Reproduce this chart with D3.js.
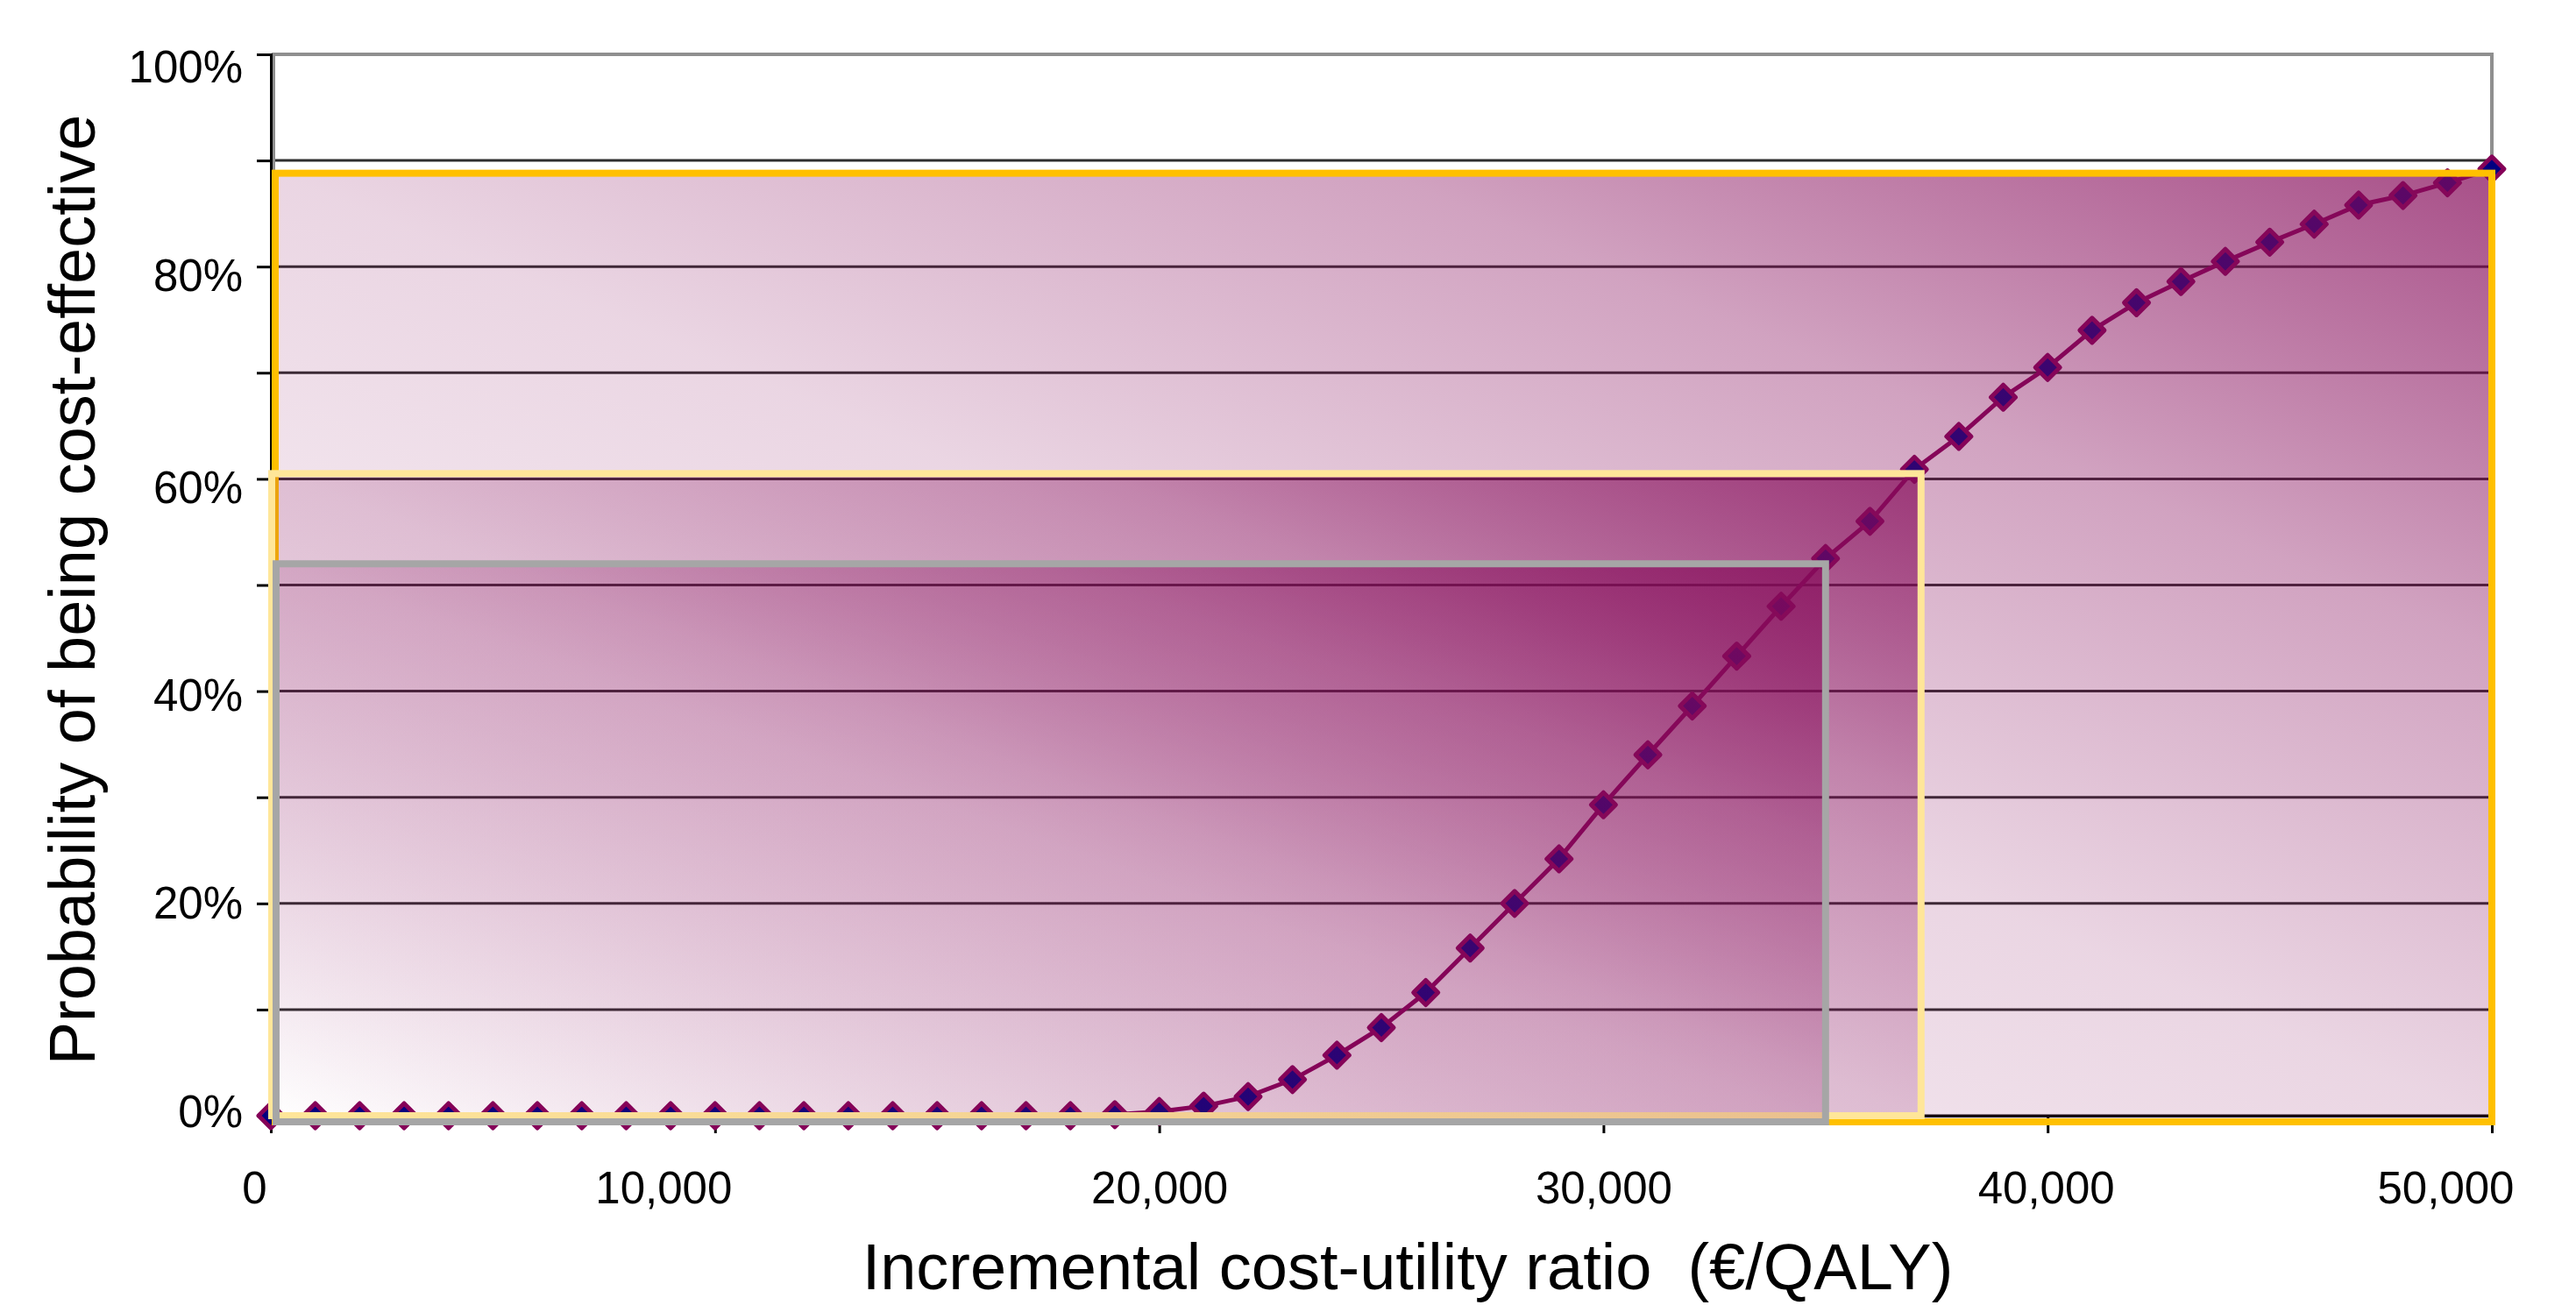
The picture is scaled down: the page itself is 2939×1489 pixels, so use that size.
<!DOCTYPE html>
<html>
<head>
<meta charset="utf-8">
<script src="https://cdn.jsdelivr.net/npm/d3@7"></script>
<style>
  html, body { margin: 0; padding: 0; background: #ffffff; }
  svg { display: block; }
  text { font-family: "Liberation Sans", Arial, Helvetica, sans-serif; fill: #000; }
</style>
</head>
<body>
<svg id="chart" width="2939" height="1489"></svg>
<script>
// ---------------- data ----------------
const wtpValues = [0, 1000, 2000, 3000, 4000, 5000, 6000, 7000, 8000, 9000,
  10000, 11000, 12000, 13000, 14000, 15000, 16000, 17000, 18000, 19000,
  20000, 21000, 22000, 23000, 24000, 25000, 26000, 27000, 28000, 29000,
  30000, 31000, 32000, 33000, 34000, 35000, 36000, 37000, 38000, 39000,
  40000, 41000, 42000, 43000, 44000, 45000, 46000, 47000, 48000, 49000, 50000];
const probCostEffective = [0, 0, 0, 0, 0, 0, 0, 0, 0, 0,
  0, 0, 0, 0, 0, 0, 0, 0, 0, 0.1,
  0.4, 0.9, 1.8, 3.4, 5.7, 8.3, 11.6, 15.8, 20.0, 24.2,
  29.3, 34.0, 38.6, 43.3, 48.0, 52.5, 56.0, 60.9, 64.0, 67.7,
  70.5, 74.0, 76.6, 78.6, 80.5, 82.3, 84.0, 85.8, 86.7, 87.9, 89.2];
const xTickValues = [0, 10000, 20000, 30000, 40000, 50000];
const yTickValues = [0, 10, 20, 30, 40, 50, 60, 70, 80, 90, 100];
const yLabelValues = [0, 20, 40, 60, 80, 100];
// highlighted regions: willingness-to-pay threshold and probability reached
const thresholdWTP = [50000, 37150, 35000];
const thresholdProb = [88.8, 60.5, 52.0];
const xAxisTitle = "Incremental cost-utility ratio  (\u20AC/QALY)";
const yAxisTitle = "Probability of being cost-effective";

// ---------------- layout / styles ----------------
const W = 2939, H = 1489;
const margin = { left: 309, right: 96, top: 62, bottom: 216 };
const boxStyles = [
  { stroke: "#FFC000", nudgeX: 5, nudgeY: 7 },
  { stroke: "#FFE699", nudgeX: 1, nudgeY: 0 },
  { stroke: "#A6A6A6", nudgeX: 6, nudgeY: 7 }
];
const overlayColor = "#860B5A";
// small hand placements of tick labels seen in the original artwork (px)
const xLabelShift = { 0: -19, 10000: -59, 20000: 0, 30000: 0, 40000: -2, 50000: -53 };
const yLabelShift = { 0: -4, 20: 0, 40: 6, 60: 11, 80: 11, 100: 15 };

const svg = d3.select("#chart");
const x = d3.scaleLinear().domain([0, 50000]).range([margin.left, W - margin.right]);
const y = d3.scaleLinear().domain([0, 100]).range([H - margin.bottom, margin.top]);

// gradient used by the highlight boxes (relative to each box)
const defs = svg.append("defs");
const grad = defs.append("linearGradient")
  .attr("id", "boxGrad")
  .attr("gradientUnits", "objectBoundingBox")
  .attr("x1", 0).attr("y1", 1).attr("x2", 1).attr("y2", 0);
[[0, 0.0], [0.5, 0.17], [0.75, 0.38], [1, 0.72]].forEach(([o, a]) => {
  grad.append("stop").attr("offset", o)
    .attr("stop-color", overlayColor).attr("stop-opacity", a);
});

// background
svg.append("rect").attr("width", W).attr("height", H).attr("fill", "#ffffff");

// gridlines
svg.append("g").attr("class", "grid")
  .selectAll("line")
  .data(yTickValues.filter(v => v > 0 && v < 100))
  .join("line")
  .attr("x1", x(0)).attr("x2", x(50000))
  .attr("y1", d => y(d)).attr("y2", d => y(d))
  .attr("stroke", "#2e2e2e").attr("stroke-width", 3);

// plot-area border
svg.append("rect")
  .attr("x", x(0) + 3).attr("y", y(100))
  .attr("width", x(50000) - x(0) - 3).attr("height", y(0) - y(100))
  .attr("fill", "none").attr("stroke", "#8f8f8f").attr("stroke-width", 4);

// axes
const yAxis = d3.axisLeft(y)
  .tickValues(yTickValues)
  .tickSize(16).tickPadding(16)
  .tickFormat(d => yLabelValues.includes(d) ? d + "%" : "");
const gy = svg.append("g").attr("transform", `translate(${x(0)},0)`).call(yAxis);
gy.select(".domain").attr("stroke", "#000").attr("stroke-width", 3);
gy.selectAll(".tick line").attr("stroke", "#000").attr("stroke-width", 3);
gy.selectAll(".tick text").attr("font-size", 51)
  .attr("font-family", "'Liberation Sans', Arial, sans-serif")
  .attr("transform", d => `translate(0,${yLabelShift[d] || 0})`);

const xAxis = d3.axisBottom(x)
  .tickValues(xTickValues)
  .tickSize(20).tickPadding(44)
  .tickFormat(d3.format(","));
const gx = svg.append("g").attr("transform", `translate(0,${y(0)})`).call(xAxis);
gx.select(".domain").attr("stroke", "#000").attr("stroke-width", 3);
gx.selectAll(".tick line").attr("stroke", "#000").attr("stroke-width", 3);
gx.selectAll(".tick text").attr("font-size", 51)
  .attr("font-family", "'Liberation Sans', Arial, sans-serif")
  .attr("transform", d => `translate(${xLabelShift[d] || 0},0)`);

// curve
const pts = wtpValues.map((w, i) => [w, probCostEffective[i]]);
svg.append("path")
  .datum(pts)
  .attr("fill", "none")
  .attr("stroke", "#850058")
  .attr("stroke-width", 5)
  .attr("d", d3.line().x(d => x(d[0])).y(d => y(d[1])));

const diamond = {
  draw(ctx, size) {
    const r = Math.sqrt(size / 2);
    ctx.moveTo(0, -r); ctx.lineTo(r, 0); ctx.lineTo(0, r); ctx.lineTo(-r, 0); ctx.closePath();
  }
};
svg.append("g").selectAll("path")
  .data(pts)
  .join("path")
  .attr("transform", d => `translate(${x(d[0])},${y(d[1])})`)
  .attr("d", d3.symbol().type(diamond).size(392))
  .attr("fill", "#000080")
  .attr("stroke", "#850058")
  .attr("stroke-width", 5)
  .attr("stroke-linejoin", "round");

// highlight boxes (semi-transparent overlays)
svg.append("g").selectAll("rect")
  .data(thresholdWTP.map((w, i) => ({ w, p: thresholdProb[i], s: boxStyles[i] })))
  .join("rect")
  .attr("x", d => x(0) + d.s.nudgeX)
  .attr("y", d => y(d.p))
  .attr("width", d => x(d.w) - x(0) - d.s.nudgeX)
  .attr("height", d => y(0) + d.s.nudgeY - y(d.p))
  .attr("fill", "url(#boxGrad)")
  .attr("stroke", d => d.s.stroke)
  .attr("stroke-width", 8);

// axis titles
svg.append("text")
  .attr("x", 1606).attr("y", 1471)
  .attr("text-anchor", "middle")
  .attr("font-size", 74)
  .style("white-space", "pre")
  .text(xAxisTitle);

svg.append("text")
  .attr("transform", "translate(108,673) rotate(-90)")
  .attr("text-anchor", "middle")
  .attr("font-size", 74)
  .text(yAxisTitle);
</script>
</body>
</html>
